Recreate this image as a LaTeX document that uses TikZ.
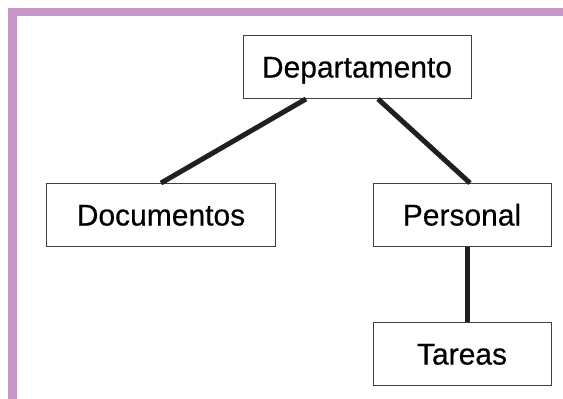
\documentclass[tikz,border=0pt]{standalone}
\usepackage{fontspec}
\setmainfont[FakeBold=0.4]{Liberation Sans}
\usepackage{xcolor}
\usepackage{tikz}
\usetikzlibrary{shapes,positioning}
\definecolor{lila}{RGB}{201,150,201}
\definecolor{linea}{RGB}{35,31,32}
\tikzset{caja/.style={rectangle,draw=black!75,line width=0.9pt,minimum height=63pt,inner sep=0pt,text height=21pt,text depth=0pt,font=\fontsize{30}{34}\selectfont}}
\tikzset{rama/.style={draw=linea,line width=5pt}}

\begin{document}
\begin{tikzpicture}[x=1pt,y=-1pt]
    \useasboundingbox (0,0) rectangle (563,399);
    \fill [lila] (8,8) rectangle (563,16);
    \fill [lila] (8,8) rectangle (17,399);

    \node[caja,minimum width=228pt] (dep)at (357,67) {Departamento};
    \node[caja,minimum width=229pt] (doc)at (161,215) {Documentos};
    \node[caja,minimum width=178pt] (per)at (462,215) {Personal};
    \node[caja,minimum width=178pt] (tar)at (462,354) {Tareas};

    \draw [rama] ([xshift=-51pt]dep.south) to [] (doc.north);
    \draw [rama] ([xshift=21pt]dep.south) to [] ([xshift=8pt]per.north);
    \draw [rama] ([xshift=5pt]per.south) to [] ([xshift=5pt]tar.north);
\end{tikzpicture}
\end{document}
